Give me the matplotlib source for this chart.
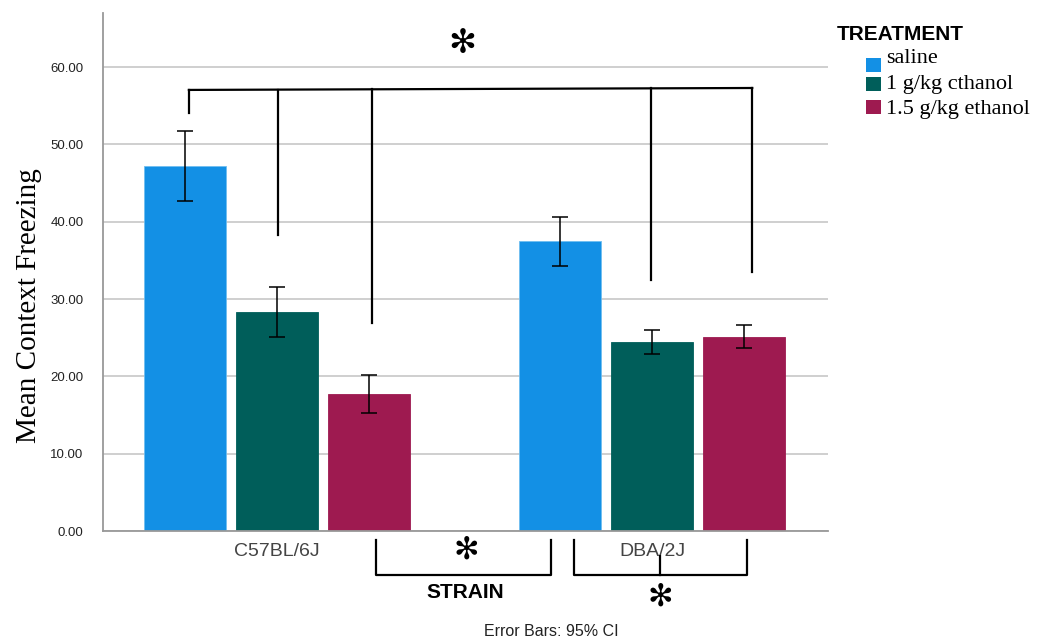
import numpy as np
import matplotlib
matplotlib.use("Agg")
from matplotlib import pyplot as plt
from matplotlib.patches import Rectangle

# --- data ---
strains = ["C57BL/6J", "DBA/2J"]
treatments = ["saline", "1 g/kg cthanol", "1.5 g/kg ethanol"]
means = {
    "saline":           [47.2, 37.5],
    "1 g/kg cthanol":   [28.3, 24.4],
    "1.5 g/kg ethanol": [17.7, 25.1],
}
ci_low = {
    "saline":           [42.7, 34.3],
    "1 g/kg cthanol":   [25.1, 22.9],
    "1.5 g/kg ethanol": [15.3, 23.7],
}
ci_high = {
    "saline":           [51.7, 40.6],
    "1 g/kg cthanol":   [31.6, 26.0],
    "1.5 g/kg ethanol": [20.2, 26.6],
}
yticks = [0, 10, 20, 30, 40, 50, 60]

colors = ["#1390e5", "#005e5a", "#9e1a50"]
SERIF = ["Liberation Serif", "DejaVu Serif"]
SANS = ["Liberation Sans", "DejaVu Sans"]
STAR = "\u273b"
W, H = 1037, 641

def fx(px):
    return px / W

def fy(py):
    return 1 - py / H

fig = plt.figure(figsize=(W/100, H/100), dpi=100)
ax = fig.add_axes([fx(103), fy(531), (828-103)/W, (531-13)/H])

x = np.arange(len(strains))
width = 0.219
step = 0.245
for i, t in enumerate(treatments):
    pos = x + (i-1)*step
    m = np.array(means[t])
    lo = m - np.array(ci_low[t])
    hi = np.array(ci_high[t]) - m
    ax.bar(pos, m, width=width, color=colors[i], edgecolor="#6fbef0" if i == 0 else colors[i],
           linewidth=0.6, zorder=2)
    ax.errorbar(pos, m, yerr=[lo, hi], fmt="none", ecolor="black", elinewidth=1.1,
                capsize=6, capthick=1.1, zorder=3)

ax.set_xlim(-0.464, 1.469)
ax.set_ylim(0, 67)
ax.set_yticks(yticks)
ax.set_yticklabels([f"{v:.2f}" for v in yticks], fontsize=9.5, color="#222222", family=SANS)
ax.set_xticks(x)
ax.set_xticklabels(strains, fontsize=14, color="#444444", family=SANS)
ax.tick_params(axis="both", length=0)
ax.tick_params(axis="x", pad=9)
ax.tick_params(axis="y", pad=14)
ax.grid(axis="y", color="#cccccc", linewidth=1.3, zorder=0)
ax.set_axisbelow(True)
for s in ["top", "right"]:
    ax.spines[s].set_visible(False)
for s in ["left", "bottom"]:
    ax.spines[s].set_color("#999999")
    ax.spines[s].set_linewidth(1.3)

ax.set_ylabel("Mean Context Freezing", fontsize=21, family=SERIF)
ax.yaxis.set_label_coords(-0.084, 0.435)

# --- significance brackets (top) ---
lw = 1.6
top_y0, top_y1 = 57.05, 57.3
ax.plot([-0.235, 1.267], [top_y0, top_y1], color="black", lw=lw, clip_on=False, zorder=4)
drops = [(-0.235, 54.1), (0.003, 38.3), (0.253, 26.9), (0.997, 32.5), (1.267, 33.5)]
for xd, yd in drops:
    yt = top_y0 + (top_y1 - top_y0) * (xd + 0.235) / 1.502
    ax.plot([xd, xd], [yt, yd], color="black", lw=lw, clip_on=False, zorder=4)
ax.text(0.493, 63.1, STAR, fontsize=24, ha="center", va="center", family=["DejaVu Sans"])

# --- bottom brackets ---
tr = ax.get_xaxis_transform()
ax.plot([0.264, 0.264, 0.731, 0.731], [-0.017, -0.085, -0.085, -0.017], transform=tr,
        color="black", lw=lw, clip_on=False)
ax.plot([0.792, 0.792, 1.253, 1.253], [-0.017, -0.085, -0.085, -0.017], transform=tr,
        color="black", lw=lw, clip_on=False)
ax.plot([1.021, 1.021], [-0.048, -0.085], transform=tr, color="black", lw=lw, clip_on=False)
ax.text(0.504, -0.037, STAR, transform=tr, fontsize=22, ha="center", va="center",
        family=["DejaVu Sans"])
ax.text(1.021, -0.127, STAR, transform=tr, fontsize=22, ha="center", va="center",
        family=["DejaVu Sans"])
fig.text(fx(465), fy(592), "STRAIN", fontsize=15, fontweight="bold",
         ha="center", va="center", family=SANS)

fig.text(fx(551), fy(632), "Error Bars: 95% CI", fontsize=11.5, ha="center", va="center",
         family=SANS, color="#222222")

# --- legend (drawn by hand to get the indented swatches) ---
fig.text(fx(837), fy(35), "TREATMENT", fontsize=15, fontweight="bold", ha="left",
         va="center", family=SANS)
baselines = [63, 89, 114]
sw_top = [58, 77, 100]
for i, t in enumerate(treatments):
    fig.text(fx(886), fy(baselines[i]), t, fontsize=16, ha="left", va="baseline", family=SERIF)
    fig.patches.append(Rectangle((fx(866), fy(sw_top[i] + 14)), 15/W, 14/H,
                                 transform=fig.transFigure, facecolor=colors[i],
                                 edgecolor="none"))

fig.savefig("out.png", dpi=100)
